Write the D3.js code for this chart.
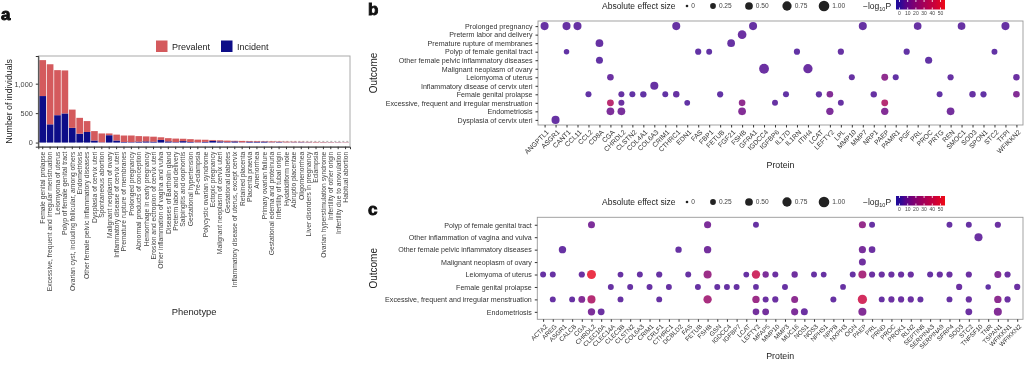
<!DOCTYPE html>
<html><head><meta charset="utf-8">
<script src="https://cdn.jsdelivr.net/npm/d3@7"></script>
<style>
body{margin:0;background:#fff}
svg{display:block;font-family:"Liberation Sans",Arial,sans-serif;will-change:transform;-webkit-font-smoothing:antialiased}
</style>
</head><body>
<svg id="chart" width="1024" height="366"></svg>
<script>
// ---------- Panel a data ----------
const phenotypes = ["Female genital prolapse","Excessive, frequent and irregular menstruation","Leiomyoma of uterus","Polyp of female genital tract","Ovarian cyst, including follicular, among others","Endometriosis","Other female pelvic inflammatory diseases","Dysplasia of cervix uteri","Spontaneous abortion","Malignant neoplasm of ovary","Inflammatory disease of cervix uteri","Premature rupture of membranes","Prolonged pregnancy","Abnormal products of conception","Hemorrhage in early pregnancy","Erosion and ectropion of cervix uteri","Other inflammation of vagina and vulva","Diseases of Bartholin gland","Preterm labor and delivery","Salpingitis and oophoritis","Gestational hypertension","Pre-eclampsia","Polycystic ovarian syndrome","Ectopic pregnancy","Malignant neoplasm of cervix uteri","Gestational diabetes","Inflammatory disease of uterus, except cervix","Retained placenta","Placenta praevia","Amenorrhea","Primary ovarian failure","Gestational edema and proteinuria","Infertility of tubal origin","Hydatidiform mole","Abruptio placentae","Oligomenorrhea","Liver disorders in pregnancy","Eclampsia","Ovarian hyperstimulation syndrome","Infertility of other origin","Infertility due to anovulation","Habitual abortion"];
const incidentCounts = [790,310,465,495,250,150,180,35,5,125,35,10,8,15,20,15,45,20,8,25,10,5,12,30,20,8,20,5,15,12,15,5,8,3,5,6,4,2,3,3,3,2];
const prevalentCounts = [610,1020,765,730,310,270,185,160,150,30,100,110,112,95,85,85,45,55,60,40,48,45,36,14,18,25,10,23,11,12,7,15,10,13,10,8,8,9,7,6,5,5];
const aYTicks = [0,500,1000];
const aThreshold = 20;

// ---------- Panel b data ----------
const bOutcomes = ["Prolonged pregnancy","Preterm labor and delivery","Premature rupture of membranes","Polyp of female genital tract","Other female pelvic inflammatory diseases","Malignant neoplasm of ovary","Leiomyoma of uterus","Inflammatory disease of cervix uteri","Female genital prolapse","Excessive, frequent and irregular menstruation","Endometriosis","Dysplasia of cervix uteri"];
const bProteins = ["ANGPTL1","ASGR1","CANT1","CCL11","CCL2","CD8A","CGA","CHRDL2","CLSTN2","COL4A1","COL6A3","CRIM1","CTHRC1","EDN1","FAS","FBP1","FETUB","FGF21","FSHB","GFRA1","IGDCC4","IGFBP6","IL17D","IL1RN","ITIH4","LCAT","LEFTY2","LPL","MMP10","MMP7","NRP1","PAEP","PAMR1","PGF","PRL","PROC","PRTG","REN","SMOC1","SOD3","SPON1","STC2","TFPI","WFIKKN2"];
// [outcome index, protein, absolute effect size, -log10 P]
const bDots = [
 [0,"ANGPTL1",.55,5],[0,"CANT1",.55,5],[0,"CCL11",.55,5],[0,"CTHRC1",.55,5],[0,"GFRA1",.55,5],[0,"MMP7",.55,5],[0,"PRL",.5,5],[0,"SMOC1",.5,5],[0,"TFPI",.55,5],
 [1,"FSHB",.65,6],
 [2,"CD8A",.5,5],[2,"FGF21",.5,5],
 [3,"CANT1",.22,4],[3,"FAS",.3,4],[3,"FBP1",.27,4],[3,"IL1RN",.3,4],[3,"LPL",.3,5],[3,"PGF",.3,4],[3,"STC2",.27,4],
 [4,"CD8A",.4,4],[4,"PROC",.42,4],
 [5,"IGDCC4",.85,6],[5,"ITIH4",.75,6],
 [6,"CGA",.35,6],[6,"MMP10",.28,5],[6,"PAEP",.38,16],[6,"PAMR1",.28,4],[6,"REN",.3,5],[6,"WFIKKN2",.33,6],
 [7,"COL6A3",.55,5],
 [8,"CCL2",.28,4],[8,"CHRDL2",.28,5],[8,"CLSTN2",.28,4],[8,"COL4A1",.32,4],[8,"CRIM1",.27,4],[8,"CTHRC1",.33,5],[8,"FETUB",.3,4],[8,"IL17D",.28,4],[8,"LCAT",.3,4],[8,"LEFTY2",.35,12],[8,"NRP1",.32,5],[8,"PRTG",.27,4],[8,"SOD3",.33,5],[8,"SPON1",.3,4],[8,"WFIKKN2",.35,12],
 [9,"CGA",.38,32],[9,"CHRDL2",.28,6],[9,"EDN1",.25,4],[9,"FSHB",.35,16],[9,"IGFBP6",.27,5],[9,"LPL",.27,5],[9,"PAEP",.38,30],
 [10,"CGA",.5,10],[10,"CHRDL2",.5,9],[10,"FSHB",.5,12],[10,"LEFTY2",.45,10],[10,"PAEP",.45,12],[10,"REN",.5,8],
 [11,"ASGR1",.55,5]
];

// ---------- Panel c data ----------
const cOutcomes = ["Polyp of female genital tract","Other inflammation of vagina and vulva","Other female pelvic inflammatory diseases","Malignant neoplasm of ovary","Leiomyoma of uterus","Female genital prolapse","Excessive, frequent and irregular menstruation","Endometriosis"];
const cProteins = ["ACTA2","AREG","ASGR1","CALCB","CGA","CHRDL2","CLEC10A","CLEC14A","CLEC3B","CLSTN2","COL6A3","CRIM1","CRLF1","CTHRC1","DCBLD2","FAS","FETUB","FSHB","GSN","IGDCC4","IGFBP7","LCAT","LEFTY2","MFAP5","MMP10","MMP3","MUC16","NOS1","NOS3","NPHS1","NPPB","NXPH3","OGN","PAEP","PRL","PRND","PROC","PROK1","RLN2","SEPTIN8","SERPINA3","SERPINA9","SFRP4","SOD3","STC2","TNFSF10","TNR","TSPAN1","WFIKKN1","WFIKKN2"];
const cDots = [
 [0,"CHRDL2",.4,10],[0,"FSHB",.42,10],[0,"LEFTY2",.27,5],[0,"PAEP",.42,18],[0,"PRL",.27,5],[0,"SFRP4",.27,5],[0,"STC2",.27,5],[0,"TSPAN1",.3,6],
 [1,"TNFSF10",.55,6],
 [2,"ASGR1",.45,5],[2,"DCBLD2",.32,5],[2,"FSHB",.45,8],[2,"PAEP",.42,9],[2,"PRL",.35,6],
 [3,"PAEP",.4,7],
 [4,"ACTA2",.27,5],[4,"AREG",.27,5],[4,"CGA",.3,6],[4,"CHRDL2",.7,52],[4,"CLEC3B",.25,5],[4,"COL6A3",.27,5],[4,"CRLF1",.3,5],[4,"FAS",.27,5],[4,"FSHB",.55,20],[4,"LCAT",.25,5],[4,"LEFTY2",.6,40],[4,"MFAP5",.32,10],[4,"MMP10",.28,6],[4,"MUC16",.32,7],[4,"NOS3",.27,5],[4,"NPHS1",.25,5],[4,"OGN",.27,5],[4,"PAEP",.55,25],[4,"PRL",.3,6],[4,"PRND",.3,6],[4,"PROC",.3,6],[4,"PROK1",.3,6],[4,"RLN2",.3,6],[4,"SERPINA3",.28,5],[4,"SERPINA9",.3,6],[4,"SFRP4",.3,6],[4,"STC2",.3,6],[4,"TSPAN1",.4,12],[4,"WFIKKN1",.3,6],
 [5,"CLEC14A",.27,5],[5,"CLSTN2",.27,5],[5,"CRIM1",.27,5],[5,"CTHRC1",.27,5],[5,"FETUB",.27,5],[5,"GSN",.27,5],[5,"IGDCC4",.27,5],[5,"IGFBP7",.27,5],[5,"LEFTY2",.25,5],[5,"MMP3",.27,5],[5,"NXPH3",.25,5],[5,"SOD3",.3,6],[5,"TNR",.22,4],[5,"WFIKKN2",.3,6],
 [6,"AREG",.27,5],[6,"CALCB",.27,5],[6,"CGA",.38,12],[6,"CHRDL2",.55,30],[6,"CLEC3B",.27,5],[6,"CRLF1",.27,5],[6,"FSHB",.6,25],[6,"LEFTY2",.45,20],[6,"MFAP5",.28,6],[6,"MMP10",.3,6],[6,"MUC16",.4,15],[6,"NPPB",.28,5],[6,"PAEP",.75,42],[6,"PRND",.27,5],[6,"PROC",.3,6],[6,"PROK1",.3,6],[6,"RLN2",.3,6],[6,"SEPTIN8",.28,5],[6,"SFRP4",.27,5],[6,"STC2",.3,6],[6,"TSPAN1",.45,15],[6,"WFIKKN1",.3,6],
 [7,"CHRDL2",.45,10],[7,"CLEC10A",.38,6],[7,"LEFTY2",.35,8],[7,"MFAP5",.38,8],[7,"MUC16",.42,10],[7,"NOS1",.4,6],[7,"PAEP",.55,12],[7,"STC2",.38,6],[7,"TSPAN1",.55,12]
];

const sizeLegendValues = [0,0.25,0.5,0.75,1.0];
const colorLegendTicks = [0,10,20,30,40,50];

// ---------- Drawing ----------
const svg = d3.select("#chart");
const tickCol = "#444";

[["a",1,20],["b",368,15],["c",368,215]].forEach(([t,x,y])=>{
  svg.append("text").attr("x",x).attr("y",y).attr("font-size",17).attr("font-weight","bold")
    .attr("fill","#111").attr("stroke","#111").attr("stroke-width",0.9).text(t);
});

// ===== Panel a =====
(function(){
  const L=38.3,R=350,T=56,B=146.7;
  const x = d3.scaleBand().domain(phenotypes).range([L,R]).paddingInner(0.1).paddingOuter(0.15);
  const y = d3.scaleLinear().domain([-70,1470]).range([B,T]);
  const rows = phenotypes.map((p,i)=>({phenotype:p,Incident:incidentCounts[i],Prevalent:prevalentCounts[i]}));
  const series = d3.stack().keys(["Incident","Prevalent"])(rows);
  const colors = {Prevalent:"#d45a5d",Incident:"#0d0d88"};
  const g = svg.append("g");
  g.append("rect").attr("x",L).attr("y",T).attr("width",R-L).attr("height",B-T).attr("fill","none").attr("stroke","#aaa").attr("stroke-width",1);
  g.append("line").attr("x1",L).attr("x2",R).attr("y1",y(aThreshold)).attr("y2",y(aThreshold))
    .attr("stroke","#999").attr("stroke-width",0.8).attr("stroke-dasharray","2,2");
  series.forEach(s=>{
    g.append("g").selectAll("rect").data(s).join("rect")
      .attr("x",d=>x(d.data.phenotype)).attr("width",x.bandwidth())
      .attr("y",d=>y(d[1])).attr("height",d=>y(d[0])-y(d[1]))
      .attr("fill",colors[s.key]);
  });
  const xa = g.append("g").attr("transform",`translate(0,${B})`).call(d3.axisBottom(x).tickSizeOuter(0).tickSize(2.5));
  xa.select(".domain").attr("stroke","#333");
  xa.selectAll(".tick line").attr("stroke","#333");
  xa.selectAll(".tick text").attr("font-size",6.75).attr("fill",tickCol).attr("font-family","Liberation Sans, Arial")
    .attr("text-anchor","end").attr("transform","rotate(-90)").attr("x",-5).attr("y",0).attr("dy","0.35em");
  const ya = g.append("g").attr("transform",`translate(${L},0)`).call(d3.axisLeft(y).tickValues(aYTicks).tickFormat(d3.format(",")).tickSizeOuter(0).tickSize(2.5));
  ya.select(".domain").attr("stroke","#333");
  ya.selectAll(".tick line").attr("stroke","#333");
  ya.selectAll(".tick text").attr("font-size",7.3).attr("fill",tickCol).attr("font-family","Liberation Sans, Arial");
  g.append("text").attr("transform",`translate(11.5,${(T+B)/2}) rotate(-90)`).attr("text-anchor","middle")
    .attr("font-size",8.8).attr("fill","#222").text("Number of individuals");
  g.append("text").attr("x",(L+R)/2).attr("y",314.5).attr("text-anchor","middle").attr("font-size",9.4).attr("fill","#222").text("Phenotype");
  const leg = [["Prevalent",156,172],["Incident",221,237]];
  leg.forEach(([k,sx,tx])=>{
    g.append("rect").attr("x",sx).attr("y",40.5).attr("width",11.5).attr("height",11.5).attr("fill",colors[k]);
    g.append("text").attr("x",tx).attr("y",49.5).attr("font-size",9).attr("fill","#222").text(k);
  });
})();

// ===== Dot panels =====
const colorScale = d3.scaleLinear().domain([0,55]).range(["#1c0a9a","#ee0a14"]).interpolate(d3.interpolateLab).clamp(true);
const sizeScale = d3.scaleRadial().domain([0,1]).range([1.3,5.3]);

function legends(ly){
  const g = svg.append("g");
  g.append("text").attr("x",602).attr("y",ly+3).attr("font-size",8.5).attr("fill","#222").text("Absolute effect size");
  const xs = [687,713,749,787,824];
  sizeLegendValues.forEach((v,i)=>{
    g.append("circle").attr("cx",xs[i]).attr("cy",ly).attr("r",sizeScale(v)).attr("fill","#222");
    g.append("text").attr("x",xs[i]+sizeScale(v)+3).attr("y",ly+2.4).attr("font-size",6.6).attr("fill","#444")
      .text(v===0?"0":d3.format(".2f")(v));
  });
  const t = g.append("text").attr("x",863).attr("y",ly+3).attr("font-size",8.5).attr("fill","#222");
  t.append("tspan").text("\u2212log");
  t.append("tspan").attr("font-size",5.5).attr("dy",2.2).text("10");
  t.append("tspan").attr("dy",-2.2).text("P");
  const cb = d3.scaleLinear().domain([0,50]).range([899.5,940.5]);
  const x0=896,x1=945,y0=ly-6,h=9.5;
  const gid = "grad"+ly;
  const grad = svg.append("defs").append("linearGradient").attr("id",gid);
  d3.range(0,1.0001,0.1).forEach(f=>{
    const v = cb.invert(x0+(x1-x0)*f);
    grad.append("stop").attr("offset",f).attr("stop-color",colorScale(v));
  });
  g.append("rect").attr("x",x0).attr("y",y0).attr("width",x1-x0).attr("height",h).attr("fill",`url(#${gid})`);
  colorLegendTicks.forEach(v=>{
    g.append("line").attr("x1",cb(v)).attr("x2",cb(v)).attr("y1",y0).attr("y2",y0+2).attr("stroke","#fff").attr("stroke-width",0.8);
    g.append("line").attr("x1",cb(v)).attr("x2",cb(v)).attr("y1",y0+h-2).attr("y2",y0+h).attr("stroke","#fff").attr("stroke-width",0.8);
    g.append("text").attr("x",cb(v)).attr("y",y0+h+5.5).attr("text-anchor","middle").attr("font-size",5).attr("fill","#444").text(v);
  });
}

function dotPanel(outcomes, proteins, dots, L,R,T,B, xFont, proteinY){
  const x = d3.scalePoint().domain(proteins).range([L,R]).padding(0.6);
  const y = d3.scalePoint().domain(outcomes).range([T,B]).padding(0.6);
  const g = svg.append("g");
  g.append("rect").attr("x",L).attr("y",T).attr("width",R-L).attr("height",B-T).attr("fill","none").attr("stroke","#999").attr("stroke-width",0.9);
  g.selectAll("circle").data(dots).join("circle")
    .attr("cx",d=>x(d[1])).attr("cy",d=>y(outcomes[d[0]]))
    .attr("r",d=>sizeScale(d[2])).attr("fill",d=>colorScale(d[3])).attr("fill-opacity",0.82);
  const ya = g.append("g").attr("transform",`translate(${L},0)`).call(d3.axisLeft(y).tickSizeOuter(0).tickSize(2.5));
  ya.select(".domain").remove();
  ya.selectAll(".tick line").attr("stroke","#333");
  ya.selectAll(".tick text").attr("font-size",7.1).attr("fill","#333").attr("font-family","Liberation Sans, Arial");
  const xa = g.append("g").attr("transform",`translate(0,${B})`).call(d3.axisBottom(x).tickSizeOuter(0).tickSize(2.5));
  xa.select(".domain").remove();
  xa.selectAll(".tick line").attr("stroke","#333");
  xa.selectAll(".tick text").attr("font-size",xFont).attr("fill","#333").attr("font-family","Liberation Sans, Arial")
    .attr("text-anchor","end").attr("x",0).attr("y",0).attr("dy","0.35em")
    .attr("transform","translate(2.5,6) rotate(-45)");
  g.append("text").attr("transform",`translate(377,${(T+B)/2}) rotate(-90)`).attr("text-anchor","middle")
    .attr("font-size",10).attr("fill","#222").text("Outcome");
  g.append("text").attr("x",(L+R)/2).attr("y",proteinY).attr("text-anchor","middle").attr("font-size",8.8).attr("fill","#222").text("Protein");
}

legends(6);
dotPanel(bOutcomes,bProteins,bDots,538,1023,21,125,6.8,168);
legends(202);
dotPanel(cOutcomes,cProteins,cDots,537.3,1023,217.3,319.3,6.4,359);
</script>
</body></html>
